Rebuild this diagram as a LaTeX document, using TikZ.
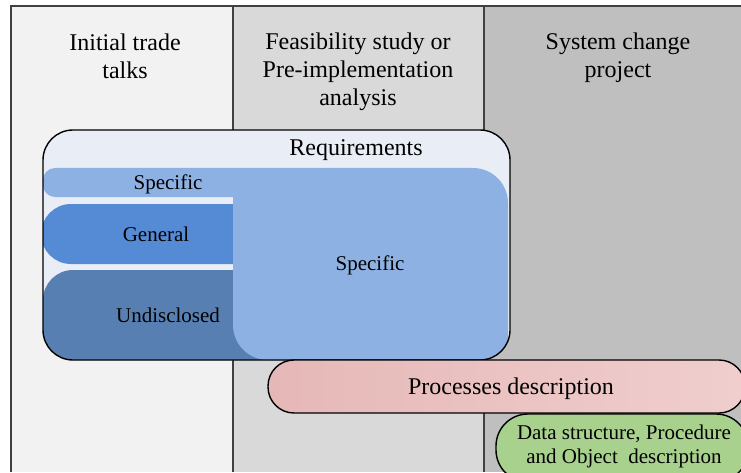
\documentclass[tikz,border=0pt]{standalone}
\usepackage{fontspec}
\setmainfont{Liberation Serif}
\usepackage{tikz}
\usetikzlibrary{positioning, calc}

\definecolor{colA}{HTML}{F2F2F2}
\definecolor{colB}{HTML}{D9D9D9}
\definecolor{colC}{HTML}{BFBFBF}
\definecolor{reqfill}{HTML}{E9EEF6}
\definecolor{specfill}{HTML}{8DB1E2}
\definecolor{genfill}{HTML}{558AD4}
\definecolor{undfill}{HTML}{577FB1}
\definecolor{procL}{HTML}{E5B8B7}
\definecolor{procR}{HTML}{F0CECE}
\definecolor{datafill}{HTML}{A9D18E}

\begin{document}
\begin{tikzpicture}[x=1pt, y=1pt,
    big/.style={font=\fontsize{24}{28}\selectfont, align=center, inner sep=0pt},
    small/.style={font=\fontsize{21}{24}\selectfont, align=center, inner sep=0pt},
    divider/.style={draw=black!75, line width=1.4pt}]
    \useasboundingbox (0,0) rectangle (741,472);
    \clip (0,0) rectangle (741,472);

    % three phase columns
    \fill[colA] (11,0) rectangle (233,466);
    \fill[colB] (233,0) rectangle (484,466);
    \fill[colC] (484,0) rectangle (741,466);
    \draw[divider] (11,0) -- (11,466) -- (745,466);
    \draw[divider] (233,0) -- (233,466);
    \draw[divider] (484,0) -- (484,466);

    % column titles
    \node[big] (talks) at (125,416) {Initial trade\\talks};
    \node[big] (feas) at (358,400) {Feasibility study or\\Pre-implementation\\analysis};
    \node[big] (proj) at (618,414) {System change\\project};

    % requirements box with its parts
    \fill[reqfill, rounded corners=30] (43,112) rectangle (510,342);
    \begin{scope}
        \clip[rounded corners=30] (43,112) rectangle (510,342);
        % undisclosed
        \fill[undfill, rounded corners=30] (43,80) rectangle (300,202);
        % general
        \fill[genfill] (233,208) -- (233,268) -- (71,268) arc (90:270:30) -- cycle;
        % specific (strip and body)
        \fill[specfill] (43,292) arc (180:90:12) -- (473,304) arc (90:0:35)
            -- (508,112) -- (268,112) arc (270:180:35) -- (233,275) -- (55,275)
            arc (270:180:12) -- cycle;
    \end{scope}
    \draw[line width=1.4pt, rounded corners=30] (43,112) rectangle (510,342);

    \node[big] (req) at (356,322) {Requirements};
    \node[small] (spec1) at (168,288) {Specific};
    \node[small] (gen) at (156,238) {General};
    \node[small] (undis) at (168,157) {Undisclosed};
    \node[small] (spec2) at (370,207) {Specific};

    % processes description
    \shade[left color=procL, right color=procR, draw=black, line width=1.4pt,
        rounded corners=26] (268,59) rectangle (745,112);
    \node[big] (proc) at (511,83) {Processes description};

    % data structure description
    \draw[fill=datafill, line width=1.4pt, rounded corners=32] (496,-10) rectangle (748,58);
    \node[small] (data) at (624,26) {Data structure, Procedure\\and Object~~description};
\end{tikzpicture}
\end{document}
